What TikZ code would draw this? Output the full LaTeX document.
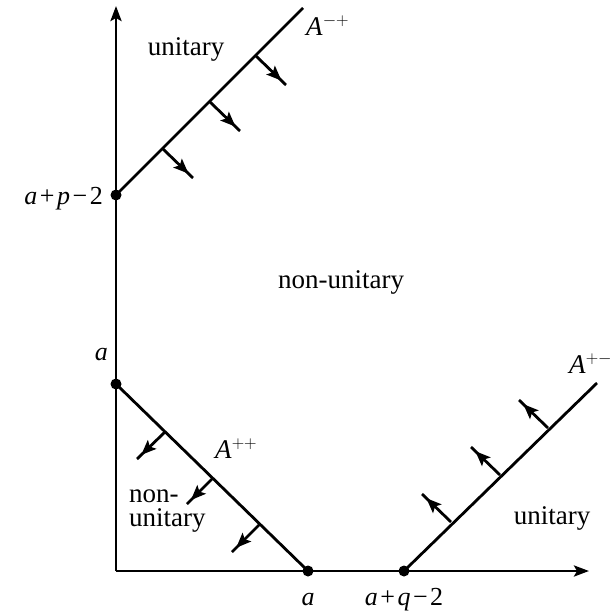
\documentclass[tikz,border=0pt]{standalone}
\usepackage{fontspec}
\setmainfont{Liberation Serif}
\usetikzlibrary{arrows.meta,decorations.markings}
\tikzset{
  axisline/.style={line width=2.8pt,-{Stealth[length=15pt,width=11pt,inset=3pt]}},
  bdry/.style={line width=2.8pt},
  normalarrow/.style={line width=2.8pt,
    decoration={markings,mark=at position 0.85 with {\arrow{Stealth[length=15pt,width=12pt,inset=3pt]}}},
    postaction=decorate},
  dot/.style={circle,fill=black,inner sep=0pt,minimum size=11pt},
  lbl/.style={font=\fontsize{27}{30}\selectfont,anchor=base,inner sep=0pt},
  mlbl/.style={font=\fontsize{26}{30}\selectfont,anchor=base,inner sep=0pt}
}
\newcommand{\mi}[1]{\textit{#1}}
\newcommand{\bsp}{\kern2.5pt}
\begin{document}
\begin{tikzpicture}[x=1pt,y=-1pt]
\useasboundingbox (0,0) rectangle (612,613);
% axes
\coordinate (O) at (116,571);
\coordinate (Ytop) at (116,6);
\coordinate (Xend) at (589,571);
\draw[axisline] (O) -- (Ytop);
\draw[axisline] (O) -- (Xend);
% points
\node[dot] (P) at (116,195) {};
\node[dot] (Aa) at (116,384) {};
\node[dot] (Ba) at (308,571) {};
\node[dot] (Q) at (404,571) {};
\coordinate (Emp) at (303,8);
\coordinate (Epm) at (597,383);
% boundary lines
\draw[bdry] (P.center) -- (Emp);
\draw[bdry] (Aa.center) -- (Ba.center);
\draw[bdry] (Q.center) -- (Epm);
% normal arrows on A^{-+}
\coordinate (m1s) at (163,149); \coordinate (m1e) at (193,178);
\coordinate (m2s) at (210,102); \coordinate (m2e) at (240,131);
\coordinate (m3s) at (256,56);  \coordinate (m3e) at (286,85);
\draw[normalarrow] (m1s) -- (m1e);
\draw[normalarrow] (m2s) -- (m2e);
\draw[normalarrow] (m3s) -- (m3e);
% normal arrows on A^{++}
\coordinate (p1s) at (165,432); \coordinate (p1e) at (137,459);
\coordinate (p2s) at (213,478); \coordinate (p2e) at (187,504);
\coordinate (p3s) at (260,524); \coordinate (p3e) at (232,552);
\draw[normalarrow] (p1s) -- (p1e);
\draw[normalarrow] (p2s) -- (p2e);
\draw[normalarrow] (p3s) -- (p3e);
% normal arrows on A^{+-}
\coordinate (q1s) at (451,522); \coordinate (q1e) at (422,494);
\coordinate (q2s) at (500,475); \coordinate (q2e) at (471,447);
\coordinate (q3s) at (548,428); \coordinate (q3e) at (519,400);
\draw[normalarrow] (q1s) -- (q1e);
\draw[normalarrow] (q2s) -- (q2e);
\draw[normalarrow] (q3s) -- (q3e);
% labels
\node[lbl] (u1) at (186,55) {unitary};
\node[lbl,anchor=base west] (lmp) at (306,35) {\mi{A}$^{-+}$};
\node[mlbl,anchor=base east] (lp) at (103,204) {\mi{a}\bsp+\bsp\mi{p}\bsp−\bsp2};
\node[lbl] (nu) at (341,288) {non-unitary};
\node[mlbl,anchor=base east] (la) at (108,360) {\mi{a}};
\node[lbl,anchor=base west] (lpp) at (215,458) {\mi{A}$^{++}$};
\node[lbl,anchor=base west,align=left] (nu2) at (129,526) {non-\\[-6pt]unitary};
\node[lbl] (u2) at (552,524) {unitary};
\node[lbl,anchor=base west] (lpm) at (569,373) {\mi{A}$^{+-}$};
\node[mlbl] (lba) at (308,605) {\mi{a}};
\node[mlbl] (lq) at (404,605) {\mi{a}\bsp+\bsp\mi{q}\bsp−\bsp2};
\end{tikzpicture}
\end{document}
